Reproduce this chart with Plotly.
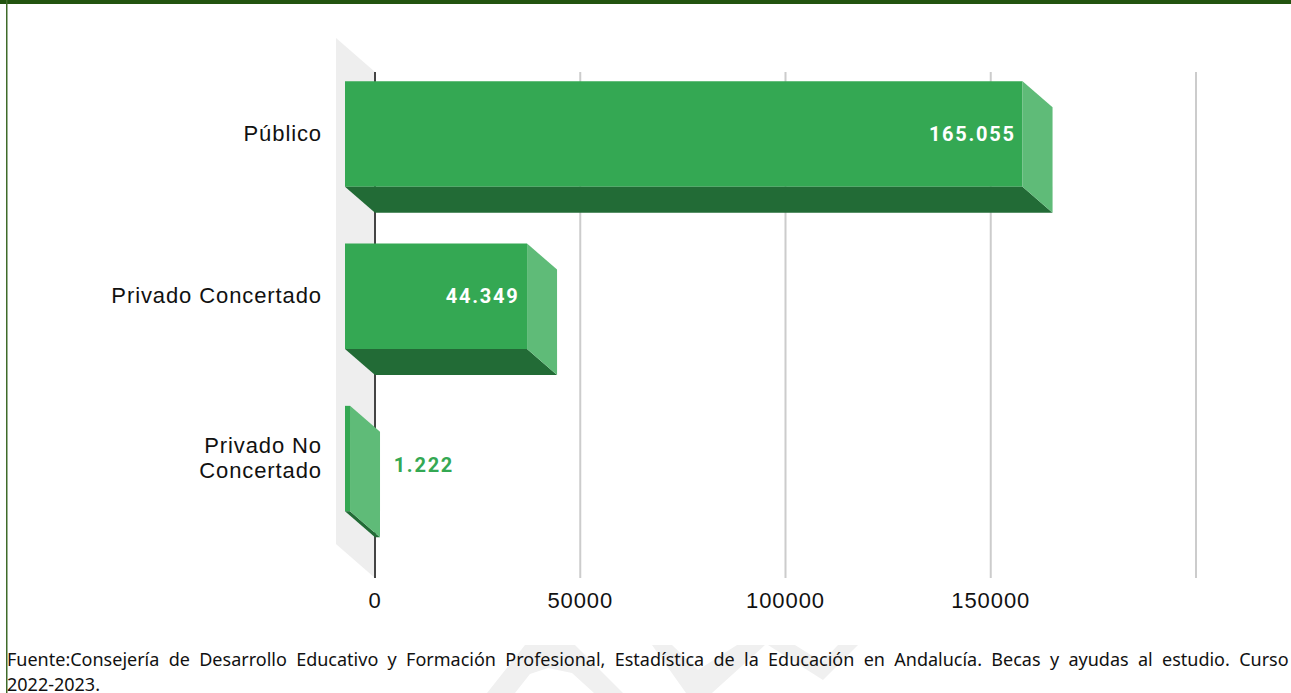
import plotly.graph_objects as go

categories = ["Público", "Privado Concertado", "Privado No<br>Concertado"]
values = [165055, 44349, 1222]
value_labels = ["165.055", "44.349", "1.222"]
tick_values = [0, 50000, 100000, 150000]
grid_values = [50000, 100000, 150000, 200000]
footer_lines = [
    "Fuente:Consejería de Desarrollo Educativo y Formación Profesional, Estadística de la Educación en Andalucía. Becas y ayudas al estudio. Curso",
    "2022-2023.",
]

W, H = 1291, 693
PX_L, PX_R, PX_T, PX_B = 336, 1200, 38, 578
X0_PX = 375
K = 821 / 200000          # px per unit
BAND = 162.3              # px per category
Y0_PX = 160
DX, DY = 30 / K, 26 / BAND
WALL_X, WALL_Y = 39 / K, 34 / BAND
BAR_W = 105.5 / BAND
LINE_GAP = 25 / BAND
LABEL_UP = 1 / BAND
ypos = [0, 1, 2]

x_range = [(PX_L - X0_PX) / K, (PX_R - X0_PX) / K]
y_range = [(PX_B - Y0_PX) / BAND, (PX_T - Y0_PX) / BAND]
y_top = (72 - Y0_PX) / BAND
y_bot = (578 - Y0_PX) / BAND

GREEN, DARK, LIGHT = "#34a853", "#226b36", "#5fbb78"
LS_VAL, LS_AXIS = 1.75, 0.9
WORD_SP = 4.65

def poly(xs, ys, color, axes=("x2", "y2")):
    return go.Scatter(x=xs + xs[:1], y=ys + ys[:1], mode="lines", fill="toself", fillcolor=color,
                      line=dict(width=0), hoverinfo="skip", showlegend=False, xaxis=axes[0], yaxis=axes[1])

def px_path(points):
    return "M " + " L ".join("%.5f,%.5f" % (x / W, 1 - y / H) for x, y in points) + " Z"

def wm(points):
    return dict(type="path", xref="paper", yref="paper", path=px_path(points), fillcolor="#f0f0f0",
                line=dict(width=0), layer="below")

# one tick per text line, so that wrapped labels keep the reference's line gap
cat_ticks, cat_text = [], []
for p, c in zip(ypos, categories):
    parts = c.split("<br>")
    for j, part in enumerate(parts):
        cat_ticks.append(p - DY - LABEL_UP + (j - (len(parts) - 1) / 2) * LINE_GAP)
        cat_text.append(part)

fig = go.Figure()
fig.add_trace(poly([-WALL_X, 0, 0, -WALL_X], [y_top - WALL_Y, y_top, y_bot, y_bot - WALL_Y], "#eeeeee", ("x", "y")))
for g in grid_values:
    fig.add_trace(go.Scatter(x=[g, g], y=[y_top, y_bot], mode="lines", line=dict(color="#cccccc", width=2),
                             hoverinfo="skip", showlegend=False))
fig.add_trace(go.Scatter(x=[0, 0], y=[y_top, y_bot], mode="lines", line=dict(color="#444444", width=2),
                         hoverinfo="skip", showlegend=False))
fig.add_trace(go.Bar(y=[p - DY for p in ypos], x=values, base=-DX, orientation="h", width=BAR_W,
                     marker=dict(color=GREEN, line=dict(width=0)), xaxis="x2", yaxis="y2",
                     hoverinfo="skip", showlegend=False))
for v, p in zip(values, ypos):
    top, bot = p - BAR_W / 2, p + BAR_W / 2
    fig.add_trace(poly([-DX, v - DX, v, 0], [bot - DY, bot - DY, bot, bot], DARK))
    fig.add_trace(poly([v - DX, v, v, v - DX], [top - DY, top, bot, bot - DY], LIGHT))

ann = []
for v, p, t in zip(values, ypos, value_labels):
    big = v > 10000
    ann.append(dict(x=v - DX if big else v, y=p - DY, xref="x2", yref="y2", text="<b>%s</b>" % t, showarrow=False,
                    xanchor="right" if big else "left", xshift=-11 if big else 15.5, yshift=0 if big else -6.5,
                    font=dict(family="Roboto", size=20, color="white" if big else GREEN)))
for i, line in enumerate(footer_lines):
    ann.append(dict(x=7 / W, y=1 - (659 + 25 * i) / H, xref="paper", yref="paper", text=line, showarrow=False,
                    xanchor="left", yanchor="middle", align="left", xshift=-2,
                    font=dict(family="Noto Sans", size=18, color="#111111")))

axis_common = dict(showgrid=False, zeroline=False, showline=False)
fig.update_layout(
    width=W, height=H, margin=dict(l=0, r=0, t=0, b=0), paper_bgcolor="white", plot_bgcolor="rgba(0,0,0,0)",
    showlegend=False, annotations=ann,
    xaxis=dict(domain=[PX_L / W, PX_R / W], range=x_range, tickvals=tick_values, tickformat="d", ticks="", ticklabelstandoff=7,
               tickfont=dict(family="Liberation Sans", size=22, color="#111111"), **axis_common),
    yaxis=dict(domain=[1 - PX_B / H, 1 - PX_T / H], range=y_range, tickvals=cat_ticks, ticktext=cat_text,
               ticks="", ticklabelstandoff=13,
               tickfont=dict(family="Liberation Sans", size=22, color="#111111"), **axis_common),
    xaxis2=dict(overlaying="x", range=x_range, visible=False, matches="x"),
    yaxis2=dict(overlaying="y", range=y_range, visible=False, matches="y"),
    shapes=[
        wm([(487, 693), (525, 645), (575, 645), (623, 693), (594, 693), (572, 673), (548, 668), (530, 674), (515, 693)]),
        wm([(652, 645), (672, 645), (698, 670), (737, 645), (765, 645), (712, 693), (686, 693)]),
        wm([(768, 645), (795, 645), (822, 662), (838, 645), (858, 645), (823, 680)]),
        dict(type="rect", xref="paper", yref="paper", x0=0, x1=1, y0=1 - 4 / H, y1=1, fillcolor="#22540f", line=dict(width=0), layer="below"),
        dict(type="rect", xref="paper", yref="paper", x0=6 / W, x1=7.5 / W, y0=0, y1=1, fillcolor="#3f6b2a", line=dict(width=0), layer="below"),
    ],
)
post = """
document.documentElement.style.margin='0';
document.body.style.margin='0';
document.body.style.overflow='hidden';
var st=document.createElement('style');
st.textContent='.xtick text,.ytick text{letter-spacing:%spx}.annotation[data-index="0"] text,.annotation[data-index="1"] text,.annotation[data-index="2"] text{letter-spacing:%spx}.annotation[data-index="3"] text{word-spacing:%spx}';
document.head.appendChild(st);
""" % (LS_AXIS, LS_VAL, WORD_SP)
fig.write_html("out.html", post_script=post, config=dict(displayModeBar=False))
